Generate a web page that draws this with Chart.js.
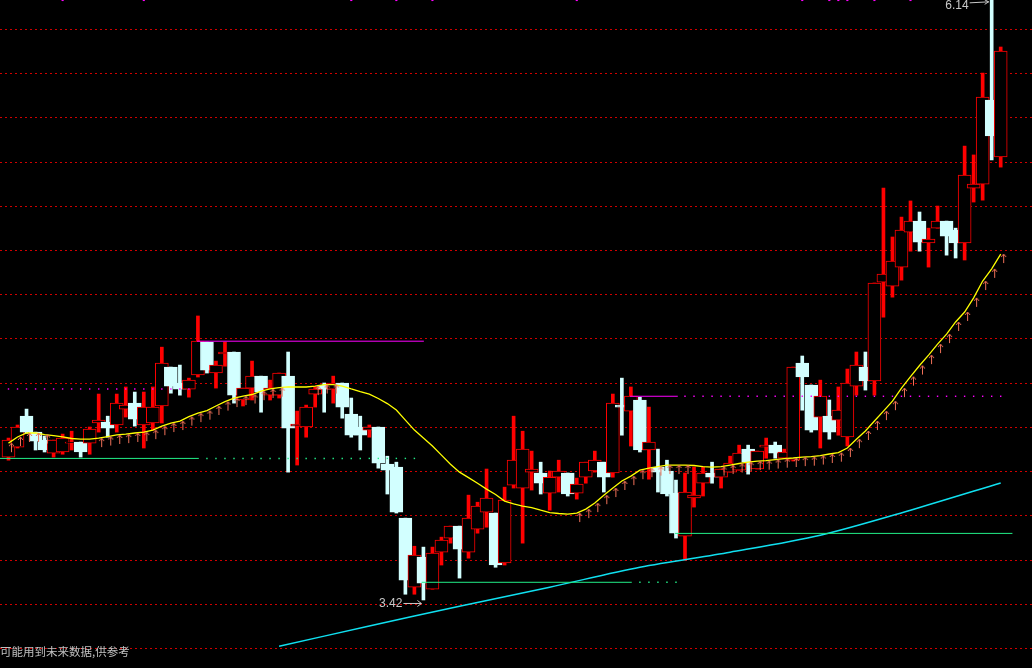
<!DOCTYPE html>
<html>
<head>
<meta charset="utf-8">
<script src="https://cdn.jsdelivr.net/npm/chart.js@4.4.0/dist/chart.umd.min.js"></script>
<style>
    html, body { margin: 0; padding: 0; background: #000; }
    #wrap { width: 1032px; height: 668px; position: relative; }
</style>
</head>
<body>
<div id="wrap"><canvas id="kChart" width="1032" height="668"></canvas></div>
<script>
// K线数据 (index 0..110)
const openArr = [
    4.066, 4.111, 4.251, 4.179, 4.143, 4.084, 4.089, 4.129, 4.134, 4.129,
    4.220, 4.224, 4.211, 4.283, 4.310, 4.211, 4.220, 4.297, 4.473, 4.401,
    4.373, 4.437, 4.586, 4.446, 4.532, 4.541, 4.324, 4.378, 4.432, 4.346,
    4.346, 4.432, 4.206, 4.202, 4.351, 4.392, 4.373, 4.401, 4.260, 4.202,
    4.188, 4.202, 4.034, 4.021, 3.790, 3.478, 3.614, 3.469, 3.636, 3.700,
    3.754, 3.636, 3.740, 3.817, 3.813, 3.587, 3.939, 3.926, 3.998, 3.994,
    3.903, 3.975, 3.994, 3.903, 3.975, 4.003, 4.043, 3.994, 4.301, 4.274,
    4.324, 4.098, 4.021, 4.003, 3.903, 3.709, 3.881, 3.948, 3.994, 3.975,
    3.998, 4.007, 4.102, 4.012, 4.111, 4.120, 4.061, 4.052, 4.491, 4.392,
    4.247, 4.251, 4.233, 4.157, 4.387, 4.473, 4.410, 4.857, 4.839, 4.925,
    5.083, 5.133, 5.034, 5.101, 5.133, 5.092, 5.034, 5.282, 5.300, 5.680,
    5.423
];
const closeArr = [
    4.143, 4.202, 4.179, 4.138, 4.098, 4.143, 4.152, 4.134, 4.089, 4.193,
    4.233, 4.197, 4.310, 4.301, 4.238, 4.292, 4.292, 4.491, 4.387, 4.373,
    4.414, 4.590, 4.459, 4.482, 4.541, 4.346, 4.378, 4.432, 4.360, 4.378,
    4.446, 4.197, 4.215, 4.292, 4.373, 4.373, 4.401, 4.292, 4.165, 4.165,
    4.202, 4.039, 4.007, 3.817, 3.510, 3.623, 3.496, 3.632, 3.691, 3.754,
    3.650, 3.790, 3.844, 3.881, 3.578, 3.872, 4.052, 4.102, 4.012, 3.948,
    3.975, 4.003, 3.899, 3.944, 4.043, 4.052, 3.975, 4.310, 4.292, 4.342,
    4.098, 4.134, 3.998, 3.899, 3.722, 3.908, 3.894, 3.994, 3.975, 4.012,
    4.039, 4.084, 4.043, 4.093, 4.120, 4.084, 4.089, 4.473, 4.428, 4.188,
    4.342, 4.179, 4.278, 4.401, 4.482, 4.410, 4.853, 4.893, 4.952, 5.092,
    5.133, 5.038, 5.052, 5.133, 5.065, 5.034, 5.341, 5.300, 5.694, 5.518,
    5.902
];
const highArr = [
    4.152, 4.211, 4.283, 4.179, 4.161, 4.143, 4.170, 4.183, 4.134, 4.202,
    4.351, 4.251, 4.351, 4.383, 4.360, 4.360, 4.383, 4.563, 4.473, 4.482,
    4.423, 4.704, 4.586, 4.500, 4.586, 4.541, 4.378, 4.500, 4.432, 4.414,
    4.446, 4.541, 4.274, 4.301, 4.383, 4.401, 4.432, 4.401, 4.333, 4.251,
    4.211, 4.202, 4.070, 4.043, 3.790, 3.663, 3.659, 3.659, 3.704, 3.754,
    3.754, 3.894, 3.862, 4.012, 3.813, 3.930, 4.251, 4.183, 4.093, 4.043,
    4.003, 4.052, 3.994, 3.971, 4.043, 4.093, 4.043, 4.351, 4.423, 4.383,
    4.337, 4.292, 4.102, 4.052, 3.962, 3.994, 4.021, 4.021, 4.043, 4.012,
    4.070, 4.120, 4.120, 4.093, 4.152, 4.134, 4.102, 4.473, 4.523, 4.392,
    4.414, 4.324, 4.383, 4.464, 4.541, 4.541, 4.853, 5.282, 5.061, 5.151,
    5.224, 5.174, 5.101, 5.201, 5.133, 5.101, 5.472, 5.432, 5.802, 6.140,
    5.920
];
const lowArr = [
    4.052, 4.107, 4.174, 4.098, 4.089, 4.066, 4.079, 4.098, 4.066, 4.079,
    4.179, 4.156, 4.179, 4.247, 4.206, 4.107, 4.188, 4.220, 4.355, 4.346,
    4.337, 4.428, 4.446, 4.378, 4.477, 4.310, 4.297, 4.324, 4.269, 4.324,
    4.333, 3.998, 4.030, 4.156, 4.292, 4.269, 4.310, 4.242, 4.156, 4.098,
    4.156, 4.016, 3.899, 3.813, 3.446, 3.446, 3.420, 3.469, 3.578, 3.677,
    3.519, 3.609, 3.722, 3.749, 3.568, 3.578, 3.926, 3.677, 3.917, 3.899,
    3.826, 3.908, 3.890, 3.876, 3.948, 3.998, 3.908, 3.975, 4.165, 4.116,
    4.089, 3.966, 3.908, 3.890, 3.700, 3.600, 3.840, 3.890, 3.948, 3.926,
    3.998, 4.007, 3.989, 4.012, 4.061, 4.061, 4.061, 4.048, 4.278, 4.179,
    4.107, 4.147, 4.165, 4.116, 4.346, 4.369, 4.346, 4.699, 4.789, 4.866,
    4.997, 4.997, 4.925, 5.101, 4.979, 4.966, 4.957, 5.219, 5.228, 5.409,
    5.377
];

// 黄色均线
const maShort = [
    4.129, 4.157, 4.175, 4.175, 4.168, 4.163, 4.157, 4.150, 4.147, 4.147,
    4.152, 4.159, 4.166, 4.170, 4.175, 4.179, 4.188, 4.206, 4.220, 4.229,
    4.249, 4.265, 4.276, 4.297, 4.317, 4.333, 4.342, 4.349, 4.364, 4.374,
    4.380, 4.383, 4.383, 4.383, 4.387, 4.394, 4.394, 4.387, 4.374, 4.362,
    4.351, 4.331, 4.308, 4.279, 4.233, 4.188, 4.152, 4.116, 4.075, 4.034,
    3.998, 3.973, 3.948, 3.921, 3.897, 3.867, 3.854, 3.844, 3.838, 3.826,
    3.815, 3.811, 3.808, 3.813, 3.831, 3.858, 3.894, 3.926, 3.958, 3.980,
    4.007, 4.016, 4.023, 4.030, 4.030, 4.030, 4.028, 4.023, 4.021, 4.023,
    4.030, 4.037, 4.043, 4.048, 4.050, 4.055, 4.059, 4.062, 4.066, 4.068,
    4.073, 4.080, 4.086, 4.107, 4.147, 4.184, 4.229, 4.274, 4.319, 4.378,
    4.430, 4.480, 4.527, 4.577, 4.622, 4.677, 4.722, 4.786, 4.862, 4.917,
    4.984
];
// 上升箭头所在的K线
const arrowIdx = [
    0, 1, 2, 3, 4,
    10, 11, 12, 13, 14, 15, 16, 17, 18, 19, 20, 21, 22, 23, 24, 25, 26, 27, 28, 29, 30,
    34, 35, 36,
    63, 64, 65, 66, 67, 68, 69, 70, 71, 72, 73, 74, 75,
    79, 80, 81, 82, 83, 84, 85, 86, 87, 88, 89, 90, 91, 92, 93, 94, 95, 96, 97, 98, 99,
    100, 101, 102, 103, 104, 105, 106, 107, 108, 109, 110
];

// 青色长均线
const maLongIdx = [30, 40, 50, 60, 70, 80, 90, 100, 110];
const maLong = [3.211, 3.302, 3.392, 3.478, 3.568, 3.636, 3.713, 3.826, 3.949];

// 支撑/压力线: [起点, 终点, 价格]
const greenSolid = [[-1, 21.1, 4.060], [45.8, 69.1, 3.500], [73.9, 111.3, 3.721]];
const greenDots = [[22, 45, 4.060], [70, 74, 3.500]];
const pinkSolid = [[20.9, 46.05, 4.590], [68.9, 74.2, 4.341]];
const pinkDots = [[0, 20, 4.374], [75, 110, 4.341]];
const topMarks = [6, 15, 38, 43, 47, 63, 88, 91, 92, 93, 96, 100];

const gridVals = [3.2, 3.4, 3.6, 3.8, 4.0, 4.2, 4.4, 4.6, 4.8, 5.0, 5.2, 5.4, 5.6, 5.8, 6.0];
const yMin = 3.1125, yMax = 6.1325;
const xMin = -0.942, xMax = 113.47;

const RED = '#ff0000';
const CYAN_BODY = '#d2ffff';
const isUp = openArr.map((o, i) => closeArr[i] >= o);

function makeArrow() {
    const c = document.createElement('canvas');
    c.width = 7; c.height = 24;
    const g = c.getContext('2d');
    g.strokeStyle = '#f07058';
    g.lineWidth = 1;
    g.beginPath();
    g.moveTo(3.5, 12); g.lineTo(3.5, 21);
    g.moveTo(1, 15); g.lineTo(3.5, 12); g.lineTo(6, 15);
    g.stroke();
    return c;
}

function segs(list) {
    const pts = [];
    list.forEach(s => {
        pts.push({ x: s[0], y: s[2] }, { x: s[1], y: s[2] }, { x: s[1], y: null });
    });
    return pts;
}

function dots(list) {
    const pts = [];
    list.forEach(s => {
        for (let k = s[0]; k <= s[1]; k++) pts.push({ x: k, y: s[2] });
    });
    return pts;
}

const wickData = openArr.map((o, i) => ({ x: i, y: [lowArr[i], highArr[i]] }));
const bodyData = openArr.map((o, i) => ({ x: i, y: [o, closeArr[i]] }));

// 文字: 最高/最低价标注, 底部提示
const labelPlugin = {
    id: 'labels',
    afterDatasetsDraw(chart) {
        const { ctx, scales: { x, y } } = chart;
        ctx.save();
        ctx.fillStyle = '#c8c8c8';
        ctx.strokeStyle = '#c8c8c8';
        ctx.lineWidth = 1;
        ctx.font = '12px "Liberation Sans", Arial, sans-serif';
        ctx.textBaseline = 'middle';
        ctx.textAlign = 'right';

        const hi = highArr.indexOf(Math.max(...highArr));
        const hx = x.getPixelForValue(hi), hy = y.getPixelForValue(highArr[hi]);
        ctx.fillText(highArr[hi].toFixed(2), hx - 23, hy + 7.5);
        ctx.beginPath();
        ctx.moveTo(hx - 22, hy + 4.5); ctx.lineTo(hx - 3, hy + 3.5);
        ctx.moveTo(hx - 7, hy + 1.5); ctx.lineTo(hx - 3, hy + 3.5); ctx.lineTo(hx - 7, hy + 6);
        ctx.stroke();

        const lo = lowArr.indexOf(Math.min(...lowArr));
        const lx = x.getPixelForValue(lo), ly = y.getPixelForValue(lowArr[lo]);
        ctx.fillText(lowArr[lo].toFixed(2), lx - 21, ly + 4);
        ctx.beginPath();
        ctx.moveTo(lx - 20, ly + 3.5); ctx.lineTo(lx - 2, ly + 3.5);
        ctx.moveTo(lx - 6, ly + 0.5); ctx.lineTo(lx - 2, ly + 3.5); ctx.lineTo(lx - 6, ly + 6.5);
        ctx.stroke();

        ctx.textAlign = 'left';
        ctx.fillStyle = '#c0c0c0';
        ctx.font = '11.5px "Noto Sans CJK SC", sans-serif';
        ctx.fillText('可能用到未来数据,供参考', 0, 652);
        ctx.restore();
    }
};

new Chart(document.getElementById('kChart').getContext('2d'), {
    type: 'bar',
    data: {
        datasets: [
            {
                label: 'wick',
                data: wickData,
                order: 6,
                grouped: false,
                barThickness: 3,
                backgroundColor: c => isUp[c.dataIndex] ? RED : CYAN_BODY,
                borderWidth: 0
            },
            {
                label: 'body',
                data: bodyData,
                order: 5,
                grouped: false,
                barThickness: 13,
                borderSkipped: false,
                borderWidth: 1,
                backgroundColor: c => isUp[c.dataIndex] ? '#000000' : CYAN_BODY,
                borderColor: c => isUp[c.dataIndex] ? RED : CYAN_BODY
            },
            {
                type: 'line',
                label: 'ma',
                data: maShort.map((v, i) => ({ x: i, y: v })),
                order: 3,
                borderColor: '#ffff00',
                borderWidth: 1.3,
                pointRadius: 0,
                tension: 0
            },
            {
                type: 'scatter',
                label: 'arrows',
                data: arrowIdx.map(k => ({ x: k + 0.33, y: maShort[k] })),
                order: 2,
                pointStyle: makeArrow(),
                pointRadius: 4
            },
            {
                type: 'line',
                label: 'maLong',
                data: maLongIdx.map((k, i) => ({ x: k, y: maLong[i] })),
                order: 3,
                borderColor: '#10e0f0',
                borderWidth: 1.5,
                pointRadius: 0,
                tension: 0.3
            },
            {
                type: 'line',
                label: 'green',
                data: segs(greenSolid),
                order: 1,
                borderColor: '#22ee88',
                borderWidth: 1,
                pointRadius: 0,
                spanGaps: false
            },
            {
                type: 'line',
                label: 'pink',
                data: segs(pinkSolid),
                order: 1,
                borderColor: '#ff00ff',
                borderWidth: 1,
                pointRadius: 0,
                spanGaps: false
            },
            {
                type: 'scatter',
                label: 'greenDots',
                data: dots(greenDots),
                order: 1,
                pointStyle: 'rect',
                pointRadius: 1,
                backgroundColor: '#22ee88',
                borderWidth: 0
            },
            {
                type: 'scatter',
                label: 'pinkDots',
                data: dots(pinkDots),
                order: 1,
                pointStyle: 'rect',
                pointRadius: 1,
                backgroundColor: '#ff00ff',
                borderWidth: 0
            },
            {
                type: 'scatter',
                label: 'top',
                data: topMarks.map(k => ({ x: k, y: yMax })),
                order: 1,
                pointStyle: 'rect',
                pointRadius: 1.5,
                backgroundColor: '#ff00ff',
                borderWidth: 0
            }
        ]
    },
    options: {
        responsive: false,
        animation: false,
        devicePixelRatio: 1,
        layout: { autoPadding: false, padding: 0 },
        plugins: { legend: { display: false }, tooltip: { enabled: false } },
        scales: {
            x: {
                type: 'linear',
                min: xMin,
                max: xMax,
                offset: false,
                display: false
            },
            y: {
                min: yMin,
                max: yMax,
                afterBuildTicks: axis => { axis.ticks = gridVals.map(v => ({ value: v })); },
                afterFit: axis => { axis.width = 0; },
                ticks: { display: false, padding: 0 },
                grid: { color: '#d00000', lineWidth: 1, drawTicks: false, tickLength: 0 },
                border: { display: false, dash: [2, 3] }
            }
        }
    },
    plugins: [labelPlugin]
});
</script>
</body>
</html>
